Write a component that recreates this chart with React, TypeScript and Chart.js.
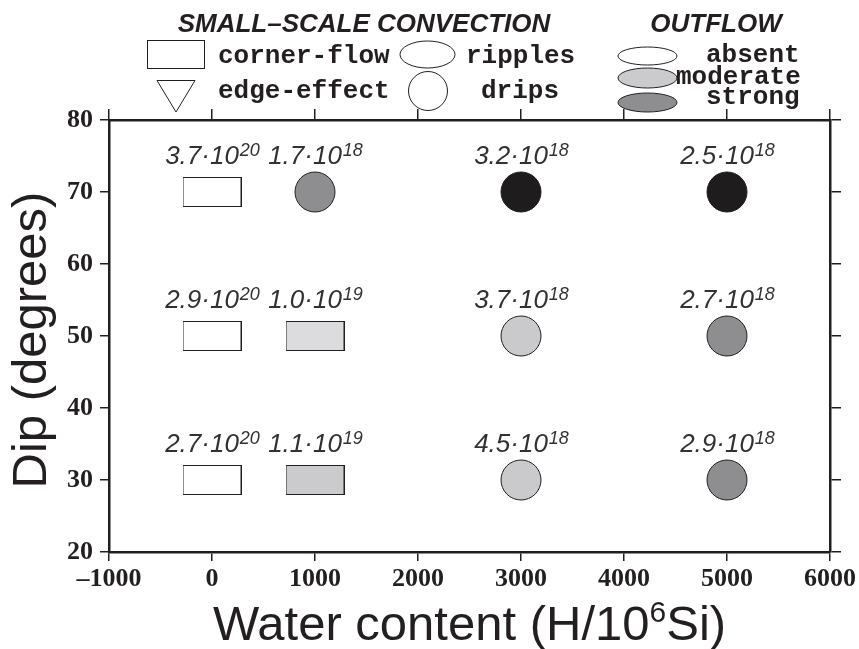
import { useEffect, useRef } from 'react';
import { Chart, registerables } from 'chart.js';

Chart.register(...registerables);

// Experiment grid: water content vs. slab dip
const waterContent = [0, 1000, 3000, 5000, 0, 1000, 3000, 5000, 0, 1000, 3000, 5000];
const dip = [70, 70, 70, 70, 50, 50, 50, 50, 30, 30, 30, 30];
// Small-scale convection regime of each run
const convection = [
  'corner-flow', 'drips', 'drips', 'drips',
  'corner-flow', 'corner-flow', 'drips', 'drips',
  'corner-flow', 'corner-flow', 'drips', 'drips',
];
// Outflow intensity shading of each run
const outflowFill = [
  '#ffffff', '#8e8e90', '#1e1c1d', '#1e1c1d',
  '#ffffff', '#dcdcde', '#cacacc', '#8e8e90',
  '#ffffff', '#cbcbcd', '#cacacc', '#8e8e90',
];
// Viscosity annotation: mantissa · 10^exponent
const viscMantissa = ['3.7', '1.7', '3.2', '2.5', '2.9', '1.0', '3.7', '2.7', '2.7', '1.1', '4.5', '2.9'];
const viscExponent = ['20', '18', '18', '18', '20', '19', '18', '18', '20', '19', '18', '18'];

const xTicks = [-1000, 0, 1000, 2000, 3000, 4000, 5000, 6000];
const xTickLabels = ['\u20131000', '0', '1000', '2000', '3000', '4000', '5000', '6000'];
const yTicks = [20, 30, 40, 50, 60, 70, 80];
const yTickLabels = ['20', '30', '40', '50', '60', '70', '80'];

const INK = '#231f20';
const TICK_FONT = { family: '"Liberation Serif", "Times New Roman", serif', size: 26, weight: 'bold' as const };

function makeRectStyle(fill: string): HTMLCanvasElement {
  const c = document.createElement('canvas');
  c.width = 59;
  c.height = 30;
  const g = c.getContext('2d')!;
  g.fillStyle = fill;
  g.fillRect(0, 0, 59, 30);
  g.strokeStyle = INK;
  g.lineWidth = 1;
  g.strokeRect(0.5, 0.5, 58, 29);
  return c;
}

const annotationPlugin = {
  id: 'viscosityLabels',
  afterDatasetsDraw(chart: any) {
    const { ctx, scales } = chart;
    const xs = scales.x;
    const ys = scales.y;
    ctx.save();
    ctx.fillStyle = '#333132';
    ctx.textBaseline = 'alphabetic';
    ctx.textAlign = 'left';
    for (let i = 0; i < waterContent.length; i++) {
      const cx = xs.getPixelForValue(waterContent[i]);
      const cy = ys.getPixelForValue(dip[i]) - 28.5;
      const main = viscMantissa[i] + '\u00b710';
      const sup = viscExponent[i];
      ctx.font = 'italic 26px "Liberation Sans", Arial, sans-serif';
      const wMain = ctx.measureText(main).width;
      ctx.font = 'italic 18px "Liberation Sans", Arial, sans-serif';
      const wSup = ctx.measureText(sup).width;
      const x0 = cx - (wMain + wSup) / 2;
      ctx.font = 'italic 26px "Liberation Sans", Arial, sans-serif';
      ctx.fillText(main, x0, cy);
      ctx.font = 'italic 18px "Liberation Sans", Arial, sans-serif';
      ctx.fillText(sup, x0 + wMain + 1, cy - 8);
    }
    ctx.restore();
  },
};

const decorPlugin = {
  id: 'decor',
  afterDraw(chart: any) {
    const { ctx, chartArea } = chart;
    ctx.save();
    ctx.fillStyle = INK;
    ctx.strokeStyle = INK;

    // Axis titles
    const big = '49px "Liberation Sans", Arial, sans-serif';
    const small = '30px "Liberation Sans", Arial, sans-serif';
    const p1 = 'Water content (H/10';
    const p2 = '6';
    const p3 = 'Si)';
    ctx.font = big;
    const w1 = ctx.measureText(p1).width;
    const w3 = ctx.measureText(p3).width;
    ctx.font = small;
    const w2 = ctx.measureText(p2).width;
    const total = w1 + w2 + w3;
    let x = (chartArea.left + chartArea.right) / 2 - total / 2;
    const base = 640;
    ctx.textAlign = 'left';
    ctx.textBaseline = 'alphabetic';
    ctx.font = big;
    ctx.fillText(p1, x, base);
    x += w1;
    ctx.font = small;
    ctx.fillText(p2, x, base - 18);
    x += w2;
    ctx.font = big;
    ctx.fillText(p3, x, base);

    ctx.save();
    ctx.translate(46, (chartArea.top + chartArea.bottom) / 2 + 4);
    ctx.rotate(-Math.PI / 2);
    ctx.textAlign = 'center';
    ctx.font = big;
    ctx.fillText('Dip (degrees)', 0, 0);
    ctx.restore();

    // Legend headings
    ctx.font = 'italic bold 26px "Liberation Sans", Arial, sans-serif';
    ctx.textAlign = 'center';
    ctx.fillText('SMALL\u2013SCALE CONVECTION', 364, 32);
    ctx.fillText('OUTFLOW', 716, 32);

    // Convection symbols
    ctx.lineWidth = 1;
    ctx.fillStyle = '#ffffff';
    ctx.fillRect(147.5, 40.5, 57, 28);
    ctx.strokeRect(147.5, 40.5, 57, 28);

    ctx.beginPath();
    ctx.ellipse(427.5, 54.5, 27.5, 13.5, 0, 0, Math.PI * 2);
    ctx.fill();
    ctx.stroke();

    ctx.beginPath();
    ctx.moveTo(157, 80.5);
    ctx.lineTo(195, 80.5);
    ctx.lineTo(176, 112);
    ctx.closePath();
    ctx.fill();
    ctx.stroke();

    ctx.beginPath();
    ctx.arc(428, 91, 19.5, 0, Math.PI * 2);
    ctx.fill();
    ctx.stroke();

    // Outflow symbols
    const outflowKey = [
      { y: 56, ry: 9, fill: '#ffffff' },
      { y: 78, ry: 10, fill: '#cbcbcd' },
      { y: 102.5, ry: 9.5, fill: '#8e8e90' },
    ];
    for (const k of outflowKey) {
      ctx.beginPath();
      ctx.ellipse(647.5, k.y, 29.5, k.ry, 0, 0, Math.PI * 2);
      ctx.fillStyle = k.fill;
      ctx.fill();
      ctx.stroke();
    }

    // Legend text
    ctx.fillStyle = INK;
    ctx.textAlign = 'left';
    ctx.font = 'bold 26px "Liberation Mono", "Courier New", monospace';
    ctx.fillText('corner-flow', 218, 63);
    ctx.fillText('ripples', 466, 63);
    ctx.fillText('edge-effect', 218, 98);
    ctx.fillText('drips', 481, 98);
    ctx.fillText('absent', 706, 62);
    ctx.fillText('moderate', 676, 84);
    ctx.fillText('strong', 706, 104);

    ctx.restore();
  },
};

function fixSize(prop: 'width' | 'height', value: number) {
  return (scale: any) => {
    scale[prop] = value;
    scale.paddingLeft = 0;
    scale.paddingRight = 0;
    scale.paddingTop = 0;
    scale.paddingBottom = 0;
  };
}

export default function App() {
  const ref = useRef<HTMLCanvasElement>(null);

  useEffect(() => {
    const canvas = ref.current;
    if (!canvas) return;

    const points = waterContent.map((w, i) => ({ x: w, y: dip[i] }));
    const styles = convection.map((c, i) => (c === 'corner-flow' ? makeRectStyle(outflowFill[i]) : 'circle'));

    const axisGrid = {
      drawOnChartArea: false,
      drawTicks: true,
      tickLength: 9,
      color: INK,
      lineWidth: 1.5,
    };
    const axisBorder = { display: true, color: INK, width: 2.5 };

    const chart = new Chart(canvas, {
      type: 'scatter',
      data: {
        datasets: [
          {
            data: points,
            pointStyle: styles as any,
            pointRadius: 20,
            pointHoverRadius: 20,
            backgroundColor: outflowFill,
            borderColor: INK,
            borderWidth: 1,
            pointBorderWidth: 1,
          },
        ],
      },
      options: {
        responsive: false,
        animation: false,
        events: [],
        layout: { padding: 0 },
        plugins: { legend: { display: false }, tooltip: { enabled: false } },
        scales: {
          x: {
            type: 'linear',
            position: 'bottom',
            min: -1000,
            max: 6000,
            afterBuildTicks: (s: any) => {
              s.ticks = xTicks.map((v) => ({ value: v }));
            },
            ticks: {
              font: TICK_FONT,
              color: INK,
              padding: 3,
              maxRotation: 0,
              autoSkip: false,
              callback: (v: any) => xTickLabels[xTicks.indexOf(Number(v))],
            },
            grid: axisGrid,
            border: axisBorder,
            afterFit: fixSize('height', 97),
          },
          xTop: {
            type: 'linear',
            position: 'top',
            min: -1000,
            max: 6000,
            afterBuildTicks: (s: any) => {
              s.ticks = xTicks.map((v) => ({ value: v }));
            },
            ticks: { display: false },
            grid: { ...axisGrid, tickLength: 11 },
            border: axisBorder,
            afterFit: fixSize('height', 120),
          },
          y: {
            type: 'linear',
            position: 'left',
            min: 20,
            max: 80,
            afterBuildTicks: (s: any) => {
              s.ticks = yTicks.map((v) => ({ value: v }));
            },
            ticks: {
              font: TICK_FONT,
              color: INK,
              padding: 7,
              autoSkip: false,
              callback: (v: any) => yTickLabels[yTicks.indexOf(Number(v))],
            },
            grid: axisGrid,
            border: axisBorder,
            afterFit: fixSize('width', 109),
          },
          yRight: {
            type: 'linear',
            position: 'right',
            min: 20,
            max: 80,
            afterBuildTicks: (s: any) => {
              s.ticks = yTicks.map((v) => ({ value: v }));
            },
            ticks: { display: false },
            grid: { ...axisGrid, tickLength: 11 },
            border: axisBorder,
            afterFit: fixSize('width', 29),
          },
        },
      },
      plugins: [annotationPlugin, decorPlugin],
    });

    return () => chart.destroy();
  }, []);

  return (
    <div style={{ position: 'absolute', left: 0, top: 0, width: 859, height: 649, background: '#ffffff' }}>
      <canvas ref={ref} width={859} height={649} style={{ width: 859, height: 649, display: 'block' }} />
    </div>
  );
}
